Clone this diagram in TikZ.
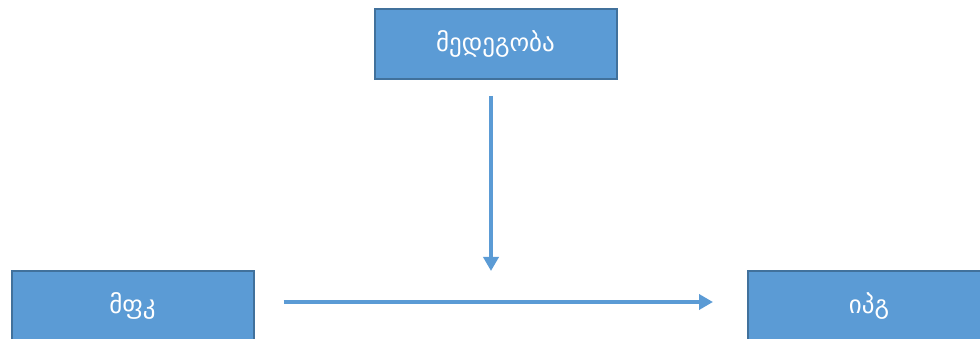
\documentclass[tikz,border=0pt]{standalone}
\usepackage{fontspec}
\newfontfamily\geofont[Script=Georgian]{DejaVu Sans}
\usetikzlibrary{arrows.meta}
\definecolor{boxfill}{HTML}{5B9BD5}
\definecolor{boxline}{HTML}{41719C}
\begin{document}
\begin{tikzpicture}[
		x=1pt, y=-1pt,
		factor node/.style={rectangle, draw=boxline, line width=2pt, fill=boxfill, text=white, font=\geofont\fontsize{25}{29}\selectfont, minimum width=242pt, minimum height=70pt, inner sep=0pt},
		flow/.style={draw=boxfill, line width=4pt, -{Triangle[width=15pt,length=14pt]}}
	]
		\useasboundingbox (0,0) rectangle (980,339);
		\clip (0,0) rectangle (980,339);

		\node[factor node] (med) at (495.5,44) {მედეგობა};
		\node[factor node] (mfk) at (132.5,306) {მფკ};
		\node[factor node] (ipg) at (869,306) {იპგ};

		\coordinate (hit) at (491,271);

		\draw[flow, shorten <=16pt] (med.south -| hit) -- (hit);
		\draw[flow, shorten <=29pt, shorten >=34pt] (mfk.east |- 0,302) -- (ipg.west |- 0,302);
	\end{tikzpicture}
\end{document}
